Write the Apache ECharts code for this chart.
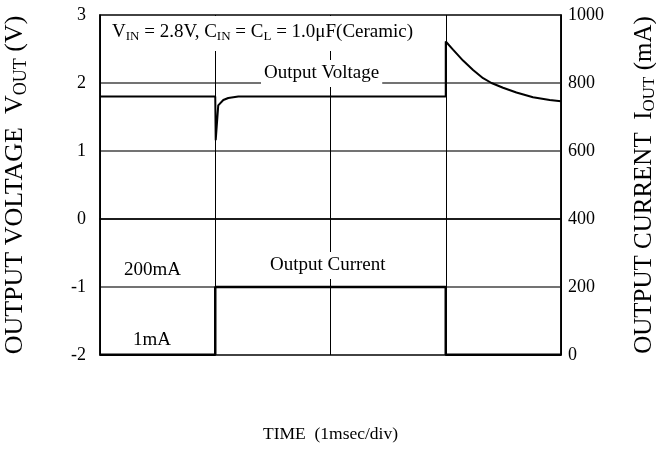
<!DOCTYPE html>
<html>
<head>
<meta charset="utf-8">
<script src="https://cdn.jsdelivr.net/npm/echarts@6/dist/echarts.min.js"></script>
<style>html,body{margin:0;padding:0;background:#fff}#c{width:656px;height:461px}</style>
</head>
<body>
<div id="c"></div>
<script>
// time in ms (1 ms/div)
var voltTime = [0, 1.0, 1.004, 1.026, 1.07, 1.113, 1.2, 3.0, 3.0, 3.063, 3.15, 3.237, 3.324, 3.397, 3.497, 3.613, 3.757, 3.902, 4.0];
var voltValue = [1.8, 1.8, 1.16, 1.67, 1.75, 1.78, 1.8, 1.8, 2.61, 2.49, 2.33, 2.19, 2.07, 2.0, 1.93, 1.86, 1.79, 1.75, 1.73];
var currTime = [0, 1.0, 1.0, 3.0, 3.0, 4.0];
var currValue = [1, 1, 200, 200, 1, 1];
var voltTicks = [-2, -1, 0, 1, 2, 3];
var currTicks = [0, 200, 400, 600, 800, 1000];

var FONT = '"Liberation Serif","Times New Roman",serif';
function pairs(xs, ys) { return xs.map(function (x, i) { return [x, ys[i]]; }); }

var chart = echarts.init(document.getElementById('c'), null, {renderer: 'canvas'});
chart.setOption({
  animation: false,
  backgroundColor: '#fff',
  grid: {left: 100, right: 95, top: 15, bottom: 106, outerBoundsMode: 'none', containLabel: false,
    show: true, borderColor: '#000', borderWidth: 1.5, backgroundColor: 'transparent'},
  xAxis: {
    type: 'value', min: 0, max: 4, interval: 1,
    axisLine: {show: true, lineStyle: {color: '#000', width: 1.5}},
    axisTick: {show: false}, axisLabel: {show: false},
    splitLine: {show: true, lineStyle: {color: '#000', width: 1}},
    name: 'TIME  (1msec/div)', nameLocation: 'middle', nameGap: 70,
    nameTextStyle: {fontFamily: FONT, fontSize: 17.5, color: '#000'}
  },
  yAxis: [{
    type: 'value', min: voltTicks[0], max: voltTicks[voltTicks.length - 1], interval: 1,
    position: 'left',
    axisLine: {show: true, lineStyle: {color: '#000', width: 1.5}},
    axisTick: {show: false},
    axisLabel: {fontFamily: FONT, fontSize: 18, color: '#000', margin: 14},
    splitLine: {show: true, lineStyle: {color: '#444', width: 1.5}},
    name: '{a|OUTPUT VOLTAGE  V}{s|OUT}{a| (V)}', nameLocation: 'middle', nameGap: 70, nameRotate: 90,
    nameTextStyle: {fontFamily: FONT, fontSize: 26, color: '#000',
      rich: {a: {fontFamily: FONT, fontSize: 26, color: '#000', lineHeight: 30}, s: {fontFamily: FONT, fontSize: 18, color: '#000', verticalAlign: 'bottom', lineHeight: 30}}}
  }, {
    type: 'value', min: currTicks[0], max: currTicks[currTicks.length - 1], interval: 200,
    position: 'right',
    axisLine: {show: true, lineStyle: {color: '#000', width: 1.5}},
    axisTick: {show: false},
    axisLabel: {fontFamily: FONT, fontSize: 18, color: '#000', margin: 7, formatter: function (v) { return String(v); }},
    splitLine: {show: false},
    name: '{a|OUTPUT CURRENT  I}{s|OUT}{a| (mA)}', nameLocation: 'middle', nameGap: 69, nameRotate: 90,
    nameTextStyle: {fontFamily: FONT, fontSize: 25, color: '#000',
      rich: {a: {fontFamily: FONT, fontSize: 25, color: '#000', lineHeight: 28}, s: {fontFamily: FONT, fontSize: 17, color: '#000', verticalAlign: 'bottom', lineHeight: 28}}}
  }],
  series: [{
    name: 'Output Voltage', type: 'line', yAxisIndex: 0, showSymbol: false, symbol: 'none', smooth: false,
    lineStyle: {color: '#000', width: 2}, data: pairs(voltTime, voltValue), z: 3
  }, {
    name: 'Output Current', type: 'line', yAxisIndex: 1, showSymbol: false, symbol: 'none',
    lineStyle: {color: '#000', width: 2.5}, data: pairs(currTime, currValue), z: 3
  }],
  graphic: [
    {type: 'text', left: 101, top: 16, z: 100, style: {
      text: '{a|V}{s|IN}{a| = 2.8V, C}{s|IN}{a| = C}{s|L}{a| = 1.0μF(Ceramic)}',
      backgroundColor: '#fff', padding: [5, 8, 8, 11],
      rich: {a: {fontFamily: FONT, fontSize: 19, color: '#000', lineHeight: 22}, s: {fontFamily: FONT, fontSize: 13, color: '#000', verticalAlign: 'bottom', lineHeight: 22}}
    }},
    {type: 'text', left: 261, top: 60, z: 100, style: {
      text: 'Output Voltage', fontFamily: FONT, fontSize: 19, fill: '#000', backgroundColor: '#fff', padding: [4, 3, 4, 3]
    }},
    {type: 'text', left: 267, top: 252, z: 100, style: {
      text: 'Output Current', fontFamily: FONT, fontSize: 19, fill: '#000', backgroundColor: '#fff', padding: [4, 3, 4, 3]
    }},
    {type: 'text', left: 124, top: 261, z: 100, style: {
      text: '200mA', fontFamily: FONT, fontSize: 19, fill: '#000'
    }},
    {type: 'text', left: 133, top: 331, z: 100, style: {
      text: '1mA', fontFamily: FONT, fontSize: 19, fill: '#000'
    }}
  ]
});
</script>
</body>
</html>
